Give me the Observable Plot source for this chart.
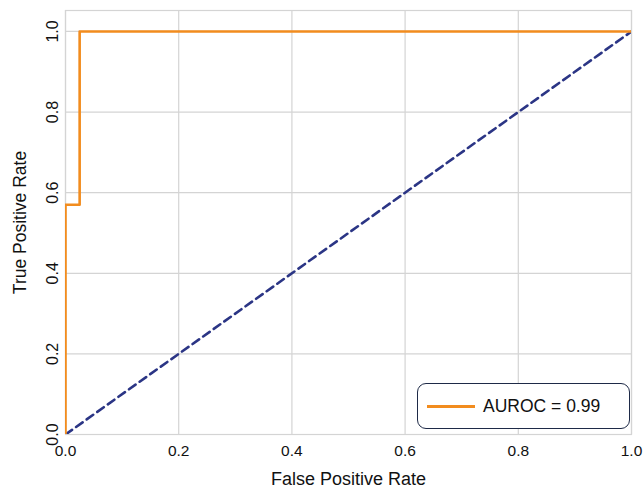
<!DOCTYPE html>
<html>
<head>
<meta charset="utf-8">
<script src="https://cdn.jsdelivr.net/npm/d3@7"></script>
<script src="https://cdn.jsdelivr.net/npm/@observablehq/plot@0.6"></script>
<style>
  html, body { margin: 0; padding: 0; background: #fff; }
  #wrap { position: relative; width: 643px; height: 489px; font-family: "Liberation Sans", Arial, sans-serif; }
  #legend { position: absolute; left: 417px; top: 383px; width: 213px; height: 46px;
    border: 1.6px solid #1e2a47; border-radius: 9px; background: #fff;
    display: flex; align-items: center; box-sizing: border-box; }
  #legend .sw { width: 48px; height: 0; border-top: 3px solid #f28c1e; margin-left: 9px; margin-right: 8px; }
  #legend .lb { font-size: 17.5px; color: #111; }
</style>
</head>
<body>
<div id="wrap"></div>
<script>
const rocFpr = [0, 0, 0.025, 0.025, 1.0];
const rocTpr = [0, 0.57, 0.57, 1.0, 1.0];
const diagFpr = [0, 1];
const diagTpr = [0, 1];
const xTicks = [0, 0.2, 0.4, 0.6, 0.8, 1.0];
const yTicks = [0, 0.2, 0.4, 0.6, 0.8, 1.0];
const legendLabel = "AUROC = 0.99";
const xLabel = "False Positive Rate";
const yLabel = "True Positive Rate";

const roc = rocFpr.map((x, i) => ({x, y: rocTpr[i]}));
const diag = diagFpr.map((x, i) => ({x, y: diagTpr[i]}));
const fmt = d3.format(".1f");

const chart = Plot.plot({
  width: 643,
  height: 489,
  marginLeft: 65,
  marginRight: 12,
  marginTop: 10,
  marginBottom: 55,
  style: {fontFamily: "'Liberation Sans', Arial, sans-serif", fontSize: "16px", color: "#111", background: "#fff"},
  x: {domain: [0, 1]},
  y: {domain: [0, 1.052]},
  marks: [
    Plot.gridX(xTicks, {stroke: "#d4d4d4", strokeOpacity: 1, strokeWidth: 1.2}),
    Plot.gridY(yTicks, {stroke: "#d4d4d4", strokeOpacity: 1, strokeWidth: 1.2}),
    Plot.frame({stroke: "#d4d4d4", strokeWidth: 1.2}),
    Plot.axisX(xTicks, {tickSize: 0, tickPadding: 10, tickFormat: fmt, fontSize: 15.5, label: null}),
    Plot.axisX({label: xLabel, labelAnchor: "center", labelArrow: "none", labelOffset: 50, ticks: [], fontSize: 18, tickSize: 0}),
    Plot.axisY(yTicks, {tickSize: 0, tickPadding: 13, tickFormat: fmt, fontSize: 16, rotate: -90, textAnchor: "middle", label: null}),
    Plot.axisY({label: yLabel, labelAnchor: "center", labelArrow: "none", labelOffset: 52, ticks: [], fontSize: 17.5, tickSize: 0}),
    Plot.line(diag, {x: "x", y: "y", stroke: "#2b3585", strokeWidth: 2.6, strokeDasharray: "8,5", clip: true}),
    Plot.line(roc, {x: "x", y: "y", stroke: "#f28c1e", strokeWidth: 2.6, clip: true})
  ]
});
const wrap = document.getElementById("wrap");
wrap.appendChild(chart);
const lg = document.createElement("div");
lg.id = "legend";
lg.innerHTML = `<div class="sw"></div><div class="lb"></div>`;
lg.querySelector(".lb").textContent = legendLabel;
wrap.appendChild(lg);
</script>
</body>
</html>
